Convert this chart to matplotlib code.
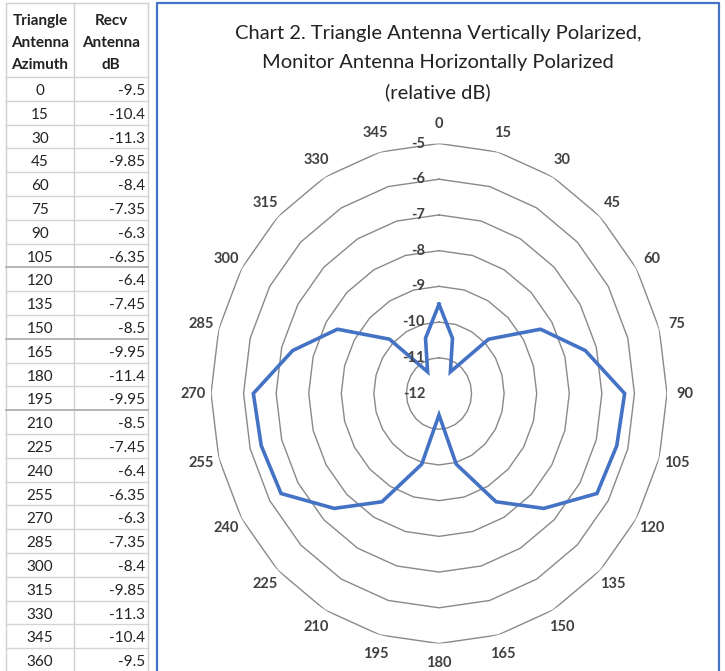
import numpy as np
import matplotlib

matplotlib.use("Agg")
import matplotlib.pyplot as plt
from matplotlib.transforms import offset_copy

plt.rcParams["font.family"] = ["Lato", "DejaVu Sans"]

# table / chart data
AZIMUTH = [0, 15, 30, 45, 60, 75, 90, 105, 120, 135, 150, 165, 180,
           195, 210, 225, 240, 255, 270, 285, 300, 315, 330, 345, 360]
RECV_DB = ["-9.5", "-10.4", "-11.3", "-9.85", "-8.4", "-7.35", "-6.3", "-6.35",
           "-6.4", "-7.45", "-8.5", "-9.95", "-11.4", "-9.95", "-8.5", "-7.45",
           "-6.4", "-6.35", "-6.3", "-7.35", "-8.4", "-9.85", "-11.3", "-10.4", "-9.5"]
CATEGORY_LABELS = [str(a) for a in AZIMUTH[:-1]]
RADIAL_TICKS = [-12, -11, -10, -9, -8, -7, -6, -5]
HEADER_1 = ["Triangle", "Antenna", "Azimuth"]
HEADER_2 = ["Recv", "Antenna", "dB"]
TITLE = ("Chart 2. Triangle Antenna Vertically Polarized,\n"
         "Monitor Antenna Horizontally Polarized\n(relative dB)")

W, H = 725, 671
TEXT = "#404040"
GRID = "#898989"
BLUE = "#4472C4"

fig = plt.figure(figsize=(W / 100, H / 100), dpi=100)
fig.patch.set_facecolor("white")

# background axes in pixel coordinates (y down) for the spreadsheet table
bg = fig.add_axes([0, 0, 1, 1], zorder=0)
bg.set_xlim(0, W)
bg.set_ylim(H, 0)
bg.axis("off")

x_left, x_mid, x_right = 6, 74, 148
head_bottom, row_h = 77, 23.8
table_bottom = head_bottom + row_h * len(AZIMUTH)
bg.plot([x_left, x_right], [3, 3], color="#d0d0d0", lw=1)
for xv in (x_left, x_mid, x_right):
    bg.plot([xv, xv], [3, table_bottom], color="#d0d0d0", lw=1)
for i in range(len(AZIMUTH) + 1):
    yv = head_bottom + i * row_h
    dark = AZIMUTH[i - 1] in (105, 150, 195) if i > 0 else False
    bg.plot([x_left, x_right], [yv, yv], color="#b4b4b4" if dark else "#d4d4d4",
            lw=1.4 if dark else 1)

for j, (h1, h2) in enumerate(zip(HEADER_1, HEADER_2)):
    yv = 21 + j * 22
    bg.text((x_left + x_mid) / 2, yv, h1, ha="center", va="center",
            fontsize=11, fontweight="bold", color="#222222")
    bg.text((x_mid + x_right) / 2, yv, h2, ha="center", va="center",
            fontsize=11, fontweight="bold", color="#222222")
for i, (az, db) in enumerate(zip(AZIMUTH, RECV_DB)):
    yv = head_bottom + i * row_h + 14
    bg.text((x_left + x_mid) / 2, yv, str(az), ha="center", va="center",
            fontsize=11, color="#222222")
    bg.text(x_right - 3, yv, db, ha="right", va="center",
            fontsize=11, color="#222222")

# chart frame and title
bg.plot([157, 157, 719, 719], [H + 5, 3, 3, H + 5], color=BLUE, lw=1.6)
bg.text(438, 63, TITLE, ha="center", va="center", fontsize=14.5,
        color="#222222", linespacing=1.82)

# radar chart on an elliptical polar axes
cx, cy, rx, ry = 439, 393.5, 228, 250
ax = fig.add_axes([(cx - rx) / W, (H - cy - ry) / H, 2 * rx / W, 2 * ry / H],
                  projection="polar", zorder=1)
ax.set_aspect("auto")
ax.set_theta_zero_location("N")
ax.set_theta_direction(-1)
ax.set_ylim(RADIAL_TICKS[0], RADIAL_TICKS[-1])
ax.grid(False)
ax.set_xticks([])
ax.set_yticks([])
ax.spines["polar"].set_visible(False)
ax.patch.set_alpha(0)

theta = np.deg2rad(AZIMUTH)
for lvl in RADIAL_TICKS[1:]:
    ax.plot(theta, [lvl] * len(theta), color=GRID, lw=1.0, zorder=1)

ax.plot(theta, [float(v) for v in RECV_DB], color=BLUE, lw=2.6, zorder=3,
        solid_joinstyle="miter")

for a, lab in zip(theta[:-1], CATEGORY_LABELS):
    ax.text(a, -4.45, lab, ha="center", va="center", fontsize=10.5,
            fontweight="bold", color=TEXT)

shift = offset_copy(ax.transData, fig=fig, x=-14, y=0, units="dots")
for lvl in RADIAL_TICKS:
    ax.text(0, lvl, str(lvl), transform=shift, ha="right", va="center",
            fontsize=10.5, fontweight="bold", color=TEXT, zorder=4)

fig.savefig("out.png", dpi=100)
